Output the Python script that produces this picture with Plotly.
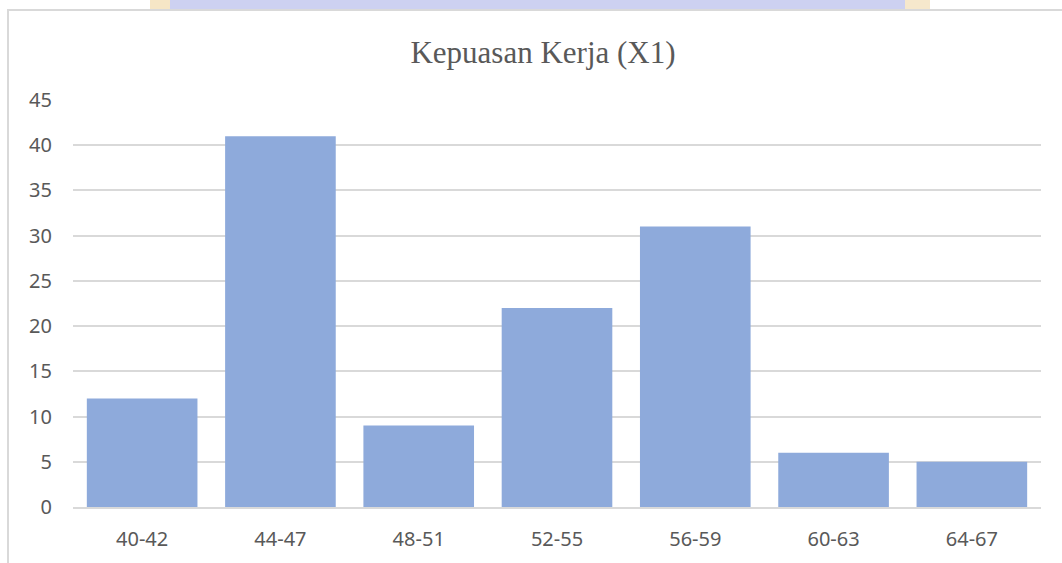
import plotly.graph_objects as go

categories = ["40-42", "44-47", "48-51", "52-55", "56-59", "60-63", "64-67"]
values = [12, 41, 9, 22, 31, 6, 5]
y_ticks = [0, 5, 10, 15, 20, 25, 30, 35, 40, 45]
title_text = "Kepuasan Kerja (X1)"

W, H = 1062, 563
L, R, T, B = 73, 21, 100, 56
pw = W - L - R
ph = H - T - B

def px_x(p):
    return (p - L) / pw

def px_y(p):
    return (H - B - p) / ph

fig = go.Figure(go.Bar(
    x=categories, y=values,
    marker=dict(color="#8EAADB", line=dict(width=0)),
    width=0.8,
))

shapes = [
    # watermark strip
    dict(type="rect", xref="paper", yref="paper", x0=px_x(170), x1=px_x(905), y0=px_y(9), y1=px_y(0),
         fillcolor="#CDD1F1", line=dict(width=0), layer="below"),
    dict(type="rect", xref="paper", yref="paper", x0=px_x(150), x1=px_x(170), y0=px_y(9), y1=px_y(0),
         fillcolor="#F6E6C6", line=dict(width=0), layer="below"),
    dict(type="rect", xref="paper", yref="paper", x0=px_x(905), x1=px_x(930), y0=px_y(9), y1=px_y(0),
         fillcolor="#F6E8CC", line=dict(width=0), layer="below"),
    # chart border
    dict(type="rect", xref="paper", yref="paper", x0=px_x(8), x1=px_x(1075), y0=px_y(580), y1=px_y(10),
         fillcolor="rgba(0,0,0,0)", line=dict(color="#D9D9D9", width=2), layer="below"),
]

fig.update_layout(
    width=W, height=H,
    margin=dict(l=L, r=R, t=T, b=B),
    paper_bgcolor="white", plot_bgcolor="white",
    title=dict(text=title_text, x=543 / W, xanchor="center", y=1 - 52 / H, yanchor="middle",
               font=dict(family="Liberation Serif", size=31, color="#595959")),
    xaxis=dict(showgrid=False, showline=True, linecolor="#D9D9D9", linewidth=2,
               tickfont=dict(family="Noto Sans", size=20, color="#595959"), ticks="",
               ticklabelstandoff=13),
    yaxis=dict(range=[0, 45], tickvals=y_ticks, showgrid=True, gridcolor="#D9D9D9", gridwidth=2,
               zeroline=False, showline=False, ticks="",
               tickfont=dict(family="Noto Sans", size=20, color="#595959"),
               ticklabelstandoff=20),
    bargap=0.2,
    shapes=shapes,
    showlegend=False,
)

fig.write_html("out.html", config={"displayModeBar": False},
               post_script="document.body.style.margin='0';")
